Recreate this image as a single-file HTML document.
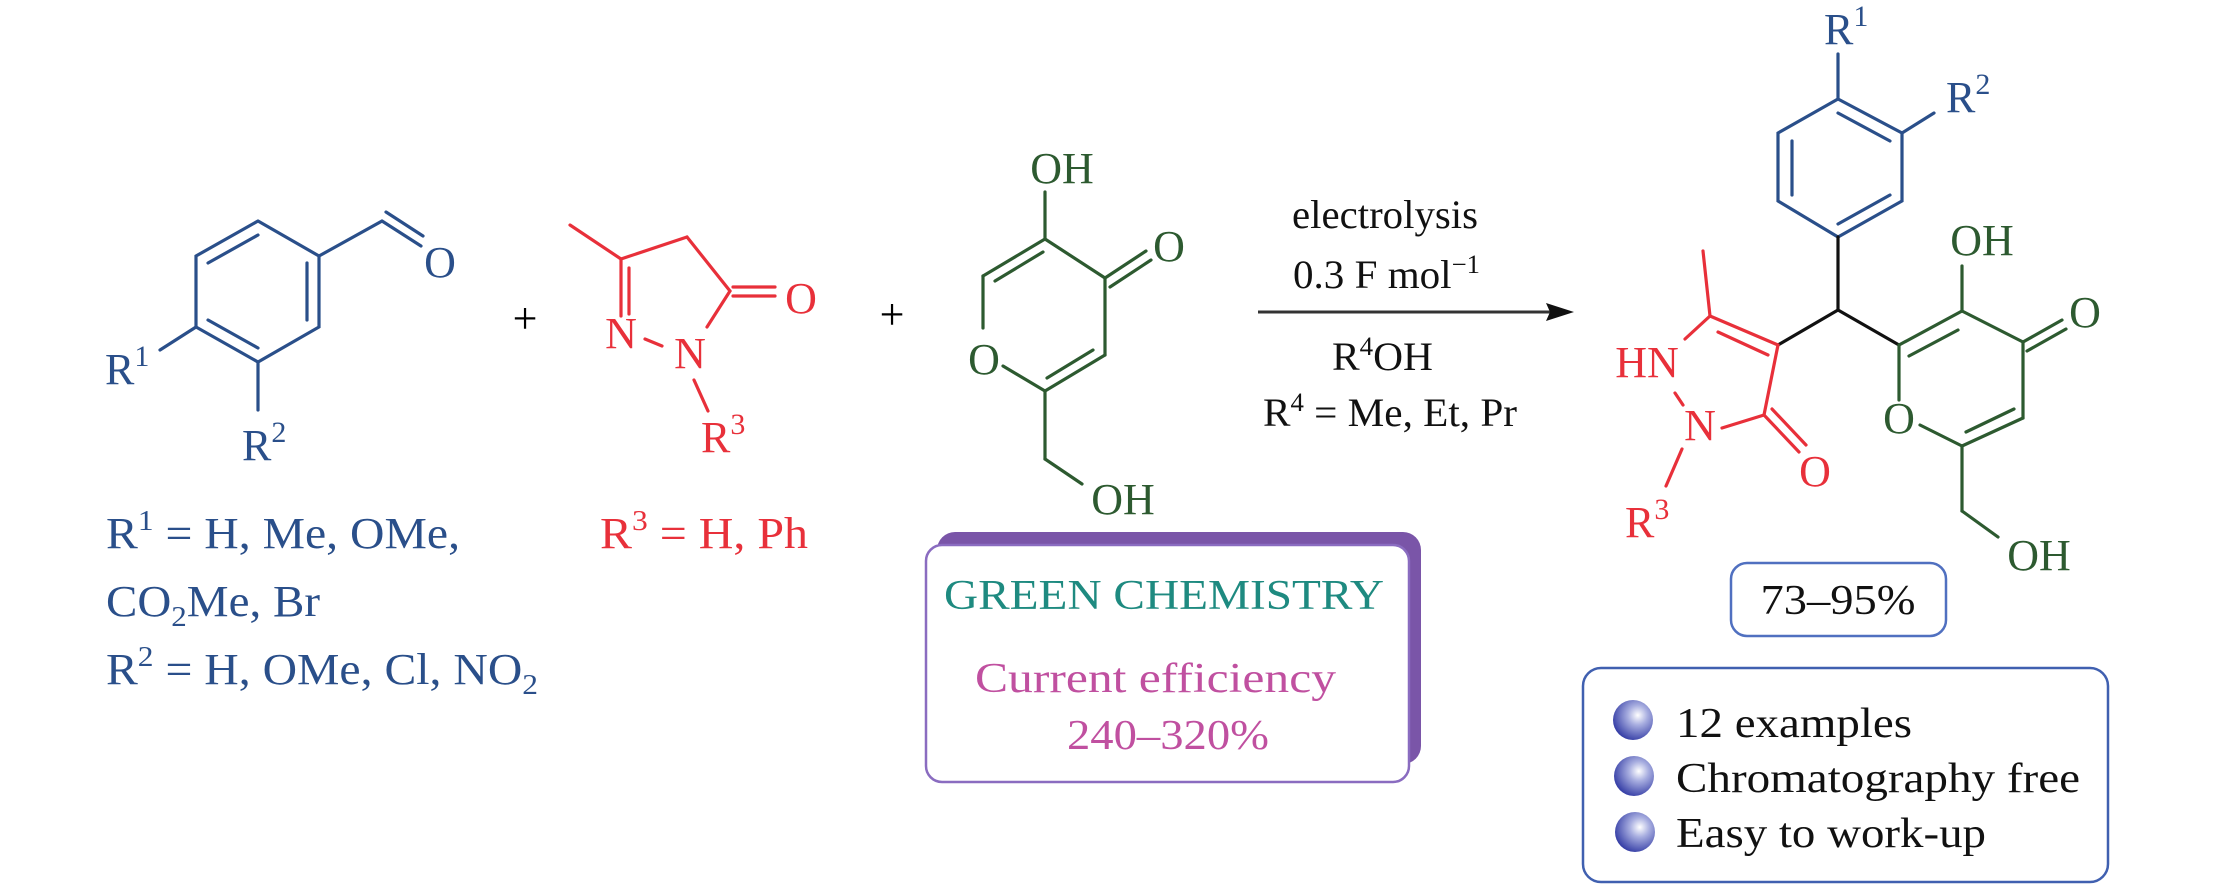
<!DOCTYPE html>
<html><head><meta charset="utf-8">
<style>
html,body{margin:0;padding:0;background:#fff;}
svg{display:block;}
text{font-family:"Liberation Serif",serif;}
</style></head>
<body>
<svg width="2213" height="886" viewBox="0 0 2213 886" xmlns="http://www.w3.org/2000/svg">
<defs>
<radialGradient id="ball" cx="0.62" cy="0.38" r="0.7">
<stop offset="0" stop-color="#ffffff"/>
<stop offset="0.35" stop-color="#a8aee0"/>
<stop offset="1" stop-color="#2a33a0"/>
</radialGradient>
</defs>

<!-- Benzaldehyde (blue) -->
<g stroke="#2a4f8a" stroke-width="3.2" fill="none" stroke-linecap="round">
<polyline points="258,221 319,256 319,327 258,362 196,327 196,256 258,221"/>
<line x1="258" y1="235" x2="208" y2="263"/>
<line x1="307" y1="263" x2="307" y2="320"/>
<line x1="208" y1="320" x2="258" y2="348"/>
<line x1="319" y1="256" x2="382" y2="221"/>
<line x1="382" y1="221" x2="421" y2="246"/>
<line x1="386" y1="212" x2="423" y2="236"/>
<line x1="196" y1="327" x2="160" y2="350"/>
<line x1="258" y1="362" x2="258" y2="410"/>
</g>
<g fill="#2a4f8a" font-size="44">
<text x="440" y="277" text-anchor="middle">O</text>
<text x="105" y="384">R<tspan font-size="30" dy="-18">1</tspan></text>
<text x="242" y="460">R<tspan font-size="30" dy="-18">2</tspan></text>
<text x="106" y="548" font-size="44" textLength="354" lengthAdjust="spacingAndGlyphs">R<tspan font-size="29" dy="-18">1</tspan><tspan dy="18"> = H, Me, OMe,</tspan></text>
<text x="106" y="616" font-size="44" textLength="214" lengthAdjust="spacingAndGlyphs">CO<tspan font-size="29" dy="10">2</tspan><tspan dy="-10">Me, Br</tspan></text>
<text x="106" y="684" font-size="44" textLength="432" lengthAdjust="spacingAndGlyphs">R<tspan font-size="29" dy="-18">2</tspan><tspan dy="18"> = H, OMe, Cl, NO</tspan><tspan font-size="29" dy="10">2</tspan></text>
</g>

<!-- plus signs -->
<g fill="#000" font-size="44" text-anchor="middle">
<text x="525" y="333">+</text>
<text x="892" y="329">+</text>
</g>

<!-- Pyrazolone (red) -->
<g stroke="#e8303a" stroke-width="3.2" fill="none" stroke-linecap="round">
<line x1="570" y1="225" x2="621" y2="259"/>
<line x1="621" y1="259" x2="687" y2="237"/>
<line x1="687" y1="237" x2="730" y2="291"/>
<line x1="733" y1="287" x2="775" y2="287"/>
<line x1="733" y1="296" x2="775" y2="296"/>
<line x1="730" y1="291" x2="707" y2="327"/>
<line x1="621" y1="259" x2="621" y2="316"/>
<line x1="629" y1="268" x2="629" y2="314"/>
<line x1="645" y1="339" x2="662" y2="346"/>
<line x1="694" y1="380" x2="708" y2="411"/>
</g>
<g fill="#e8303a" font-size="44" text-anchor="middle">
<text x="801" y="313">O</text>
<text x="690" y="368">N</text>
<text x="621" y="348">N</text>
<text x="701" y="452" text-anchor="start">R<tspan font-size="30" dy="-18">3</tspan></text>
<text x="600" y="548" font-size="44" text-anchor="start" textLength="208" lengthAdjust="spacingAndGlyphs">R<tspan font-size="29" dy="-18">3</tspan><tspan dy="18"> = H, Ph</tspan></text>
</g>

<!-- Kojic acid (green) -->
<g stroke="#2d5a30" stroke-width="3.2" fill="none" stroke-linecap="round">
<line x1="1045" y1="192" x2="1045" y2="239"/>
<line x1="1045" y1="239" x2="983" y2="276"/>
<line x1="1043" y1="252" x2="995" y2="281"/>
<line x1="983" y1="276" x2="983" y2="328"/>
<line x1="1003" y1="366" x2="1045" y2="391"/>
<line x1="1045" y1="391" x2="1105" y2="355"/>
<line x1="1047" y1="378" x2="1093" y2="350"/>
<line x1="1105" y1="355" x2="1105" y2="278"/>
<line x1="1105" y1="278" x2="1045" y2="239"/>
<line x1="1105" y1="278" x2="1146" y2="251"/>
<line x1="1110" y1="287" x2="1151" y2="260"/>
<line x1="1045" y1="391" x2="1045" y2="459"/>
<line x1="1045" y1="459" x2="1082" y2="484"/>
</g>
<g fill="#2d5a30" font-size="44" text-anchor="middle">
<text x="1062" y="183">OH</text>
<text x="1169" y="261">O</text>
<text x="984" y="374">O</text>
<text x="1123" y="514">OH</text>
</g>

<!-- Conditions -->
<g fill="#111" font-size="40">
<text x="1292" y="228" textLength="186" lengthAdjust="spacingAndGlyphs">electrolysis</text>
<text x="1293" y="288" textLength="187" lengthAdjust="spacingAndGlyphs">0.3 F mol<tspan font-size="26" dy="-15">−1</tspan></text>
<text x="1332" y="370" textLength="101" lengthAdjust="spacingAndGlyphs">R<tspan font-size="26" dy="-15">4</tspan><tspan dy="15">OH</tspan></text>
<text x="1263" y="426" textLength="254" lengthAdjust="spacingAndGlyphs">R<tspan font-size="26" dy="-15">4</tspan><tspan dy="15"> = Me, Et, Pr</tspan></text>
</g>
<line x1="1258" y1="312" x2="1550" y2="312" stroke="#333" stroke-width="3"/>
<polygon points="1574,312 1546,303 1550,312 1546,321" fill="#111"/>

<!-- Green chemistry box -->
<rect x="937" y="532" width="484" height="232" rx="18" fill="#7a55a8"/>
<rect x="926" y="545" width="483" height="237" rx="16" fill="#fff" stroke="#8a6cc0" stroke-width="2.5"/>
<text x="944" y="609" font-size="42" fill="#1e8a80" textLength="440" lengthAdjust="spacingAndGlyphs">GREEN CHEMISTRY</text>
<text x="975" y="692" font-size="42" fill="#c050a0" textLength="361" lengthAdjust="spacingAndGlyphs">Current efficiency</text>
<text x="1067" y="749" font-size="42" fill="#c050a0" textLength="202" lengthAdjust="spacingAndGlyphs">240–320%</text>

<!-- Product: phenyl (blue) -->
<g stroke="#2a4f8a" stroke-width="3.2" fill="none" stroke-linecap="round">
<polyline points="1838,99 1902,133 1902,201 1838,237 1778,201 1778,133 1838,99"/>
<line x1="1838" y1="113" x2="1890" y2="141"/>
<line x1="1792" y1="141" x2="1792" y2="195"/>
<line x1="1890" y1="195" x2="1838" y2="224"/>
<line x1="1838" y1="99" x2="1838" y2="54"/>
<line x1="1902" y1="133" x2="1934" y2="113"/>
</g>
<g fill="#2a4f8a" font-size="44">
<text x="1824" y="44">R<tspan font-size="30" dy="-18">1</tspan></text>
<text x="1946" y="112">R<tspan font-size="30" dy="-18">2</tspan></text>
</g>
<!-- black central bonds -->
<g stroke="#111" stroke-width="3.2" fill="none" stroke-linecap="round">
<line x1="1838" y1="237" x2="1838" y2="310"/>
<line x1="1838" y1="310" x2="1778" y2="345"/>
<line x1="1838" y1="310" x2="1899" y2="345"/>
</g>
<!-- product pyrazolone (red) -->
<g stroke="#e8303a" stroke-width="3.2" fill="none" stroke-linecap="round">
<line x1="1778" y1="345" x2="1710" y2="316"/>
<line x1="1768" y1="355" x2="1718" y2="332"/>
<line x1="1710" y1="316" x2="1703" y2="251"/>
<line x1="1710" y1="316" x2="1685" y2="339"/>
<line x1="1675" y1="393" x2="1683" y2="405"/>
<line x1="1778" y1="345" x2="1764" y2="415"/>
<line x1="1764" y1="415" x2="1722" y2="428"/>
<line x1="1764" y1="415" x2="1799" y2="452"/>
<line x1="1772" y1="409" x2="1806" y2="445"/>
<line x1="1682" y1="449" x2="1666" y2="486"/>
</g>
<g fill="#e8303a" font-size="44" text-anchor="middle">
<text x="1647" y="377">HN</text>
<text x="1700" y="440">N</text>
<text x="1815" y="486">O</text>
<text x="1625" y="537" text-anchor="start">R<tspan font-size="30" dy="-18">3</tspan></text>
</g>
<!-- product pyranone (green) -->
<g stroke="#2d5a30" stroke-width="3.2" fill="none" stroke-linecap="round">
<line x1="1899" y1="345" x2="1962" y2="311"/>
<line x1="1909" y1="356" x2="1958" y2="330"/>
<line x1="1962" y1="311" x2="1962" y2="266"/>
<line x1="1962" y1="311" x2="2023" y2="342"/>
<line x1="2023" y1="342" x2="2062" y2="320"/>
<line x1="2027" y1="351" x2="2066" y2="329"/>
<line x1="2023" y1="342" x2="2023" y2="418"/>
<line x1="2023" y1="418" x2="1962" y2="446"/>
<line x1="2014" y1="409" x2="1966" y2="432"/>
<line x1="1962" y1="446" x2="1920" y2="425"/>
<line x1="1899" y1="400" x2="1899" y2="345"/>
<line x1="1962" y1="446" x2="1962" y2="511"/>
<line x1="1962" y1="511" x2="1998" y2="537"/>
</g>
<g fill="#2d5a30" font-size="44" text-anchor="middle">
<text x="1982" y="255">OH</text>
<text x="2085" y="327">O</text>
<text x="1899" y="433">O</text>
<text x="2039" y="570">OH</text>
</g>

<!-- yield box -->
<rect x="1731" y="563" width="215" height="73" rx="16" fill="#fff" stroke="#5070c0" stroke-width="2.5"/>
<text x="1838" y="614" font-size="42" fill="#111" text-anchor="middle" textLength="155" lengthAdjust="spacingAndGlyphs">73–95%</text>

<!-- features box -->
<rect x="1583" y="668" width="525" height="214" rx="18" fill="#fff" stroke="#4060b0" stroke-width="2.5"/>
<circle cx="1633" cy="720" r="20" fill="url(#ball)"/>
<circle cx="1634" cy="776" r="20" fill="url(#ball)"/>
<circle cx="1635" cy="832" r="20" fill="url(#ball)"/>
<g fill="#111" font-size="42">
<text x="1676" y="737" textLength="236" lengthAdjust="spacingAndGlyphs">12 examples</text>
<text x="1676" y="792" textLength="404" lengthAdjust="spacingAndGlyphs">Chromatography free</text>
<text x="1676" y="847" textLength="310" lengthAdjust="spacingAndGlyphs">Easy to work-up</text>
</g>
</svg>
</body></html>
